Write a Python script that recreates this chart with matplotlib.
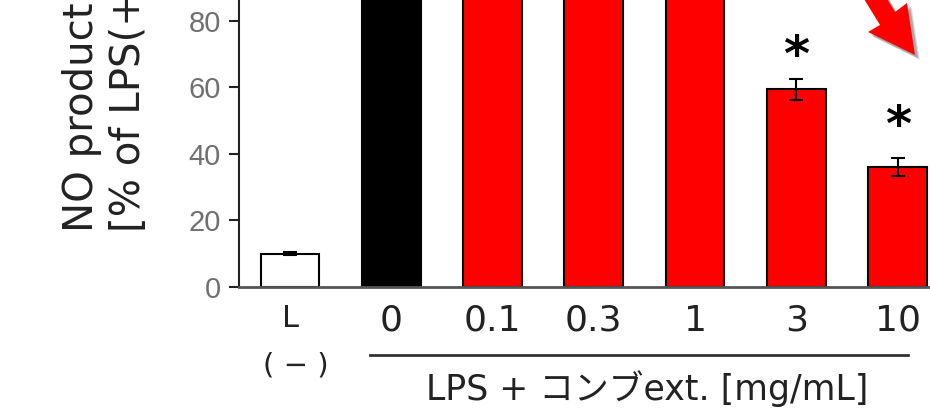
import matplotlib as mpl

mpl.use("Agg")
import matplotlib.pyplot as plt
from matplotlib.patches import Polygon

W, H = 930, 413

# data (tall bars are cut off at the top of the crop)
groups = ["L", "0", "0.1", "0.3", "1", "3", "10"]
values = [10.0, 100.0, 99.0, 98.0, 97.0, 59.4, 36.0]
errors = [0.5, 2.0, 2.0, 2.0, 2.0, 3.2, 2.7]
colors = ["white", "black", "red", "red", "red", "red", "red"]
star_groups = [5, 6]
star_y = [71.5, 50.5]
yticks = [0, 20, 40, 60, 80]

GRAY = "#707070"
INK = "#222222"


def px(x, y):
    # pixel position (from top-left) -> figure fraction
    return (x / W, 1 - y / H)


fig = plt.figure(figsize=(W / 100, H / 100), dpi=100)
ax = fig.add_axes([239 / W, (H - 287) / H, 1 - 239 / W, 287 / H])

xs = list(range(len(groups)))
ax.bar(xs, values, width=0.58, color=colors, edgecolor="black", linewidth=1.5, zorder=2)
ax.errorbar(xs, values, yerr=errors, fmt="none", ecolor="black", elinewidth=1.5,
            capsize=5, capthick=1.5, zorder=3)

for g, y in zip(star_groups, star_y):
    ax.annotate("*", (g, y), xytext=(0, -16), textcoords="offset points",
                ha="center", va="baseline", fontsize=36, fontweight="bold",
                color="black", family="DejaVu Sans")

ax.set_xlim(-0.504, 6.32)
ax.set_ylim(0, 86.2)
ax.set_yticks(yticks)
ax.tick_params(axis="y", direction="out", length=7, width=1.5, pad=6,
               labelsize=21, labelcolor=GRAY, color=INK)
for lab in ax.get_yticklabels():
    lab.set_family("Liberation Sans")

ax.set_xticks(xs)
ax.set_xticklabels(groups, fontsize=26, family="DejaVu Sans", color=INK)
ax.tick_params(axis="x", length=0, pad=12)
ax.get_xticklabels()[0].set_fontsize(22)

for side in ("top", "right"):
    ax.spines[side].set_visible(False)
ax.spines["left"].set_linewidth(1.5)
ax.spines["left"].set_color(INK)
ax.spines["bottom"].set_linewidth(2)
ax.spines["bottom"].set_color("#555555")

tr = ax.get_xaxis_transform()
ax.text(0.06, -0.275, "( − )", transform=tr, ha="center", va="center",
        fontsize=21, family="DejaVu Sans", color=INK, clip_on=False)
ax.plot([0.79, 6.10], [-0.237, -0.237], transform=tr, color="#333333",
        linewidth=2, clip_on=False)
ax.text(3.53, -0.394, "LPS + コンブext. [mg/mL]", transform=tr, ha="center",
        va="baseline", fontsize=25, family=["DejaVu Sans", "Noto Sans CJK JP"],
        color=INK, clip_on=False)

# y label, cut by the top of the crop as in the source
ax_lab = dict(rotation=90, rotation_mode="anchor", ha="left", va="baseline",
              fontsize=29, family="DejaVu Sans", color=INK)
fig.text(*px(93, 232), "NO production", **ax_lab)
fig.text(*px(140, 232), "[% of LPS(+)]", **ax_lab)

# red arrow in the top-right corner
arrow = [(840, -40), (880, 25), (868, 32), (915, 55), (907, 3), (895, 12), (858, -50)]
for k, a in ((5, 0.08), (4, 0.12), (3, 0.18)):
    shadow = Polygon([px(x + k, y + k) for x, y in arrow], closed=True,
                     transform=fig.transFigure, facecolor="black", alpha=a,
                     edgecolor="none")
    fig.add_artist(shadow)
fig.add_artist(Polygon([px(x, y) for x, y in arrow], closed=True,
                       transform=fig.transFigure, facecolor="#ff0000",
                       edgecolor="none"))

fig.savefig("out.png", dpi=100)
